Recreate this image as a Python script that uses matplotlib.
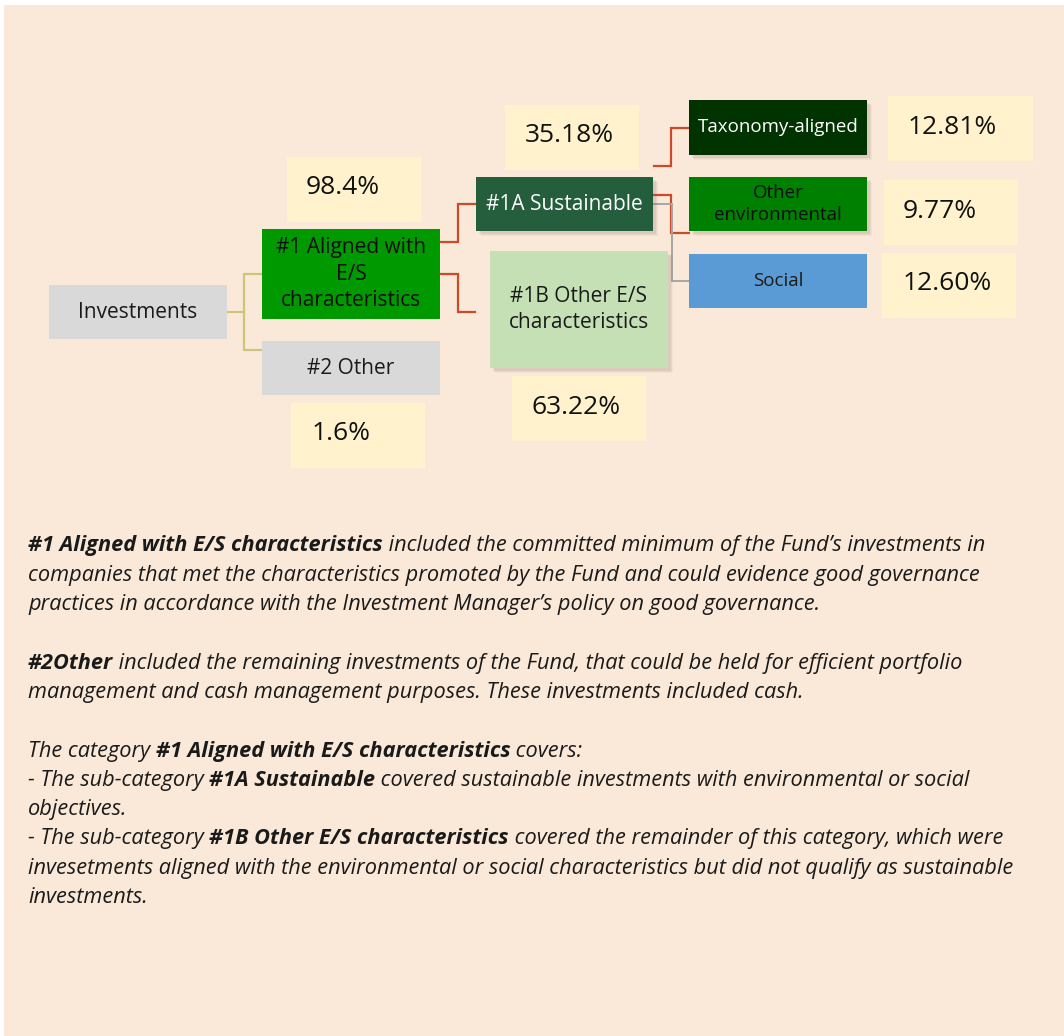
import matplotlib.pyplot as plt
from matplotlib.patches import Rectangle

# ── Data ─────────────────────────────────────────────────────────────────────
node_labels = ['Investments', '#1 Aligned with\nE/S\ncharacteristics', '#2 Other',
               '#1A Sustainable', '#1B Other E/S\ncharacteristics',
               'Taxonomy-aligned', 'Other\nenvironmental', 'Social']
share_labels = ['98.4%', '1.6%', '35.18%', '63.22%', '12.81%', '9.77%', '12.60%']

note_lines = [
    [('#1 Aligned with E/S characteristics', 'bold'),
     (" included the committed minimum of the Fund\u2019s investments in", 'normal')],
    [('companies that met the characteristics promoted by the Fund and could evidence good governance', 'normal')],
    [('practices in accordance with the Investment Manager\u2019s policy on good governance.', 'normal')],
    [],
    [('#2Other', 'bold'),
     (' included the remaining investments of the Fund, that could be held for efficient portfolio', 'normal')],
    [('management and cash management purposes. These investments included cash.', 'normal')],
    [],
    [('The category ', 'normal'), ('#1 Aligned with E/S characteristics', 'bold'), (' covers:', 'normal')],
    [('- The sub-category ', 'normal'), ('#1A Sustainable', 'bold'),
     (' covered sustainable investments with environmental or social', 'normal')],
    [('objectives.', 'normal')],
    [('- The sub-category ', 'normal'), ('#1B Other E/S characteristics', 'bold'),
     (' covered the remainder of this category, which were', 'normal')],
    [('invesetments aligned with the environmental or social characteristics but did not qualify as sustainable', 'normal')],
    [('investments.', 'normal')],
]

# ── Layout (pixel coordinates: x0, y0, x1, y1) ───────────────────────────────
node_boxes = [(49, 285, 227, 339), (262, 229, 440, 319), (262, 341, 440, 395),
              (476, 177, 653, 231), (490, 251, 668, 368),
              (689, 100, 867, 155), (689, 177, 867, 231), (689, 254, 867, 308)]
node_colors = ['#d9d9d9', '#009900', '#d9d9d9', '#255e3d', '#c5e0b4',
               '#003300', '#008000', '#5b9bd5']
node_text = ['#1a1a1a', '#0d0d0d', '#1a1a1a', 'white', '#1a1a1a',
             'white', '#0d0d0d', '#1a1a1a']
node_fs = [15, 15, 15, 15, 15, 13.5, 13.5, 13.5]
node_shadow = [False, False, False, True, True, True, True, False]

share_boxes = [(287, 157, 421, 222), (291, 403, 425, 468), (505, 105, 639, 170),
               (512, 376, 646, 441), (888, 96, 1033, 161), (884, 180, 1018, 245),
               (882, 253, 1016, 318)]
share_text_x = [343, 341, 569, 576, 952, 940, 947]

FONT = 'Open Sans'
BG = '#fae9d8'

fig = plt.figure(figsize=(10.64, 10.36), dpi=100)
ax = fig.add_axes([0, 0, 1, 1])
ax.set_xlim(0, 1064)
ax.set_ylim(1036, 0)
ax.axis('off')

ax.add_patch(Rectangle((4, 5), 1060, 1031, facecolor=BG, edgecolor='none', zorder=0))

# ── Connectors ───────────────────────────────────────────────────────────────
def elbow(x0, y0, xm, y1, x1, color, lw=1.6):
    ax.plot([x0, xm, xm, x1], [y0, y0, y1, y1], color=color, lw=lw,
            solid_joinstyle='miter', zorder=1)

ax.plot([227, 244], [312, 312], color='#cfc57a', lw=1.6, zorder=1)
ax.plot([262, 244, 244, 262], [274, 274, 350, 350], color='#cfc57a', lw=1.6, zorder=1)
elbow(440, 242, 458, 204, 476, '#cc4a2a')
elbow(440, 274, 458, 312, 475, '#cc4a2a')
elbow(654, 166, 671, 128, 689, '#cc4a2a')
elbow(653, 195, 671, 233, 689, '#cc4a2a')
elbow(653, 204, 672, 281, 689, '#a6a6a6', lw=1.4)

# ── Boxes ────────────────────────────────────────────────────────────────────
for (x0, y0, x1, y1), fc, tc, fs, sh, lab in zip(node_boxes, node_colors, node_text,
                                                node_fs, node_shadow, node_labels):
    if sh:
        for k, a in [(5, 0.06), (4, 0.08), (3, 0.10)]:
            ax.add_patch(Rectangle((x0 + k, y0 + k), x1 - x0, y1 - y0,
                                   facecolor='#7a6a5a', alpha=a, edgecolor='none', zorder=1.5))
    ax.add_patch(Rectangle((x0, y0), x1 - x0, y1 - y0, facecolor=fc,
                           edgecolor='none', zorder=2))
    ax.text((x0 + x1) / 2, (y0 + y1) / 2, lab, ha='center', va='center',
            color=tc, fontsize=fs, family=FONT, linespacing=1.33, zorder=3)

for (x0, y0, x1, y1), tx, lab in zip(share_boxes, share_text_x, share_labels):
    ax.add_patch(Rectangle((x0, y0), x1 - x0, y1 - y0, facecolor='#fff2cc',
                           edgecolor='none', zorder=2))
    ax.text(tx, y0 + 31, lab, ha='center', va='center', color='#111111',
            fontsize=19, family=FONT, zorder=3)

# ── Notes below the diagram ──────────────────────────────────────────────────
fig.canvas.draw()
renderer = fig.canvas.get_renderer()
y = 546
for parts in note_lines:
    x = 28
    for txt, wt in parts:
        t = ax.text(x, y, txt, ha='left', va='center', fontsize=15.7, family=FONT,
                    style='italic', weight=wt, color='#1a1a1a', zorder=3)
        bb = t.get_window_extent(renderer=renderer)
        x += bb.width
    y += 29.3

fig.savefig('out.png', dpi=100, facecolor='white')
